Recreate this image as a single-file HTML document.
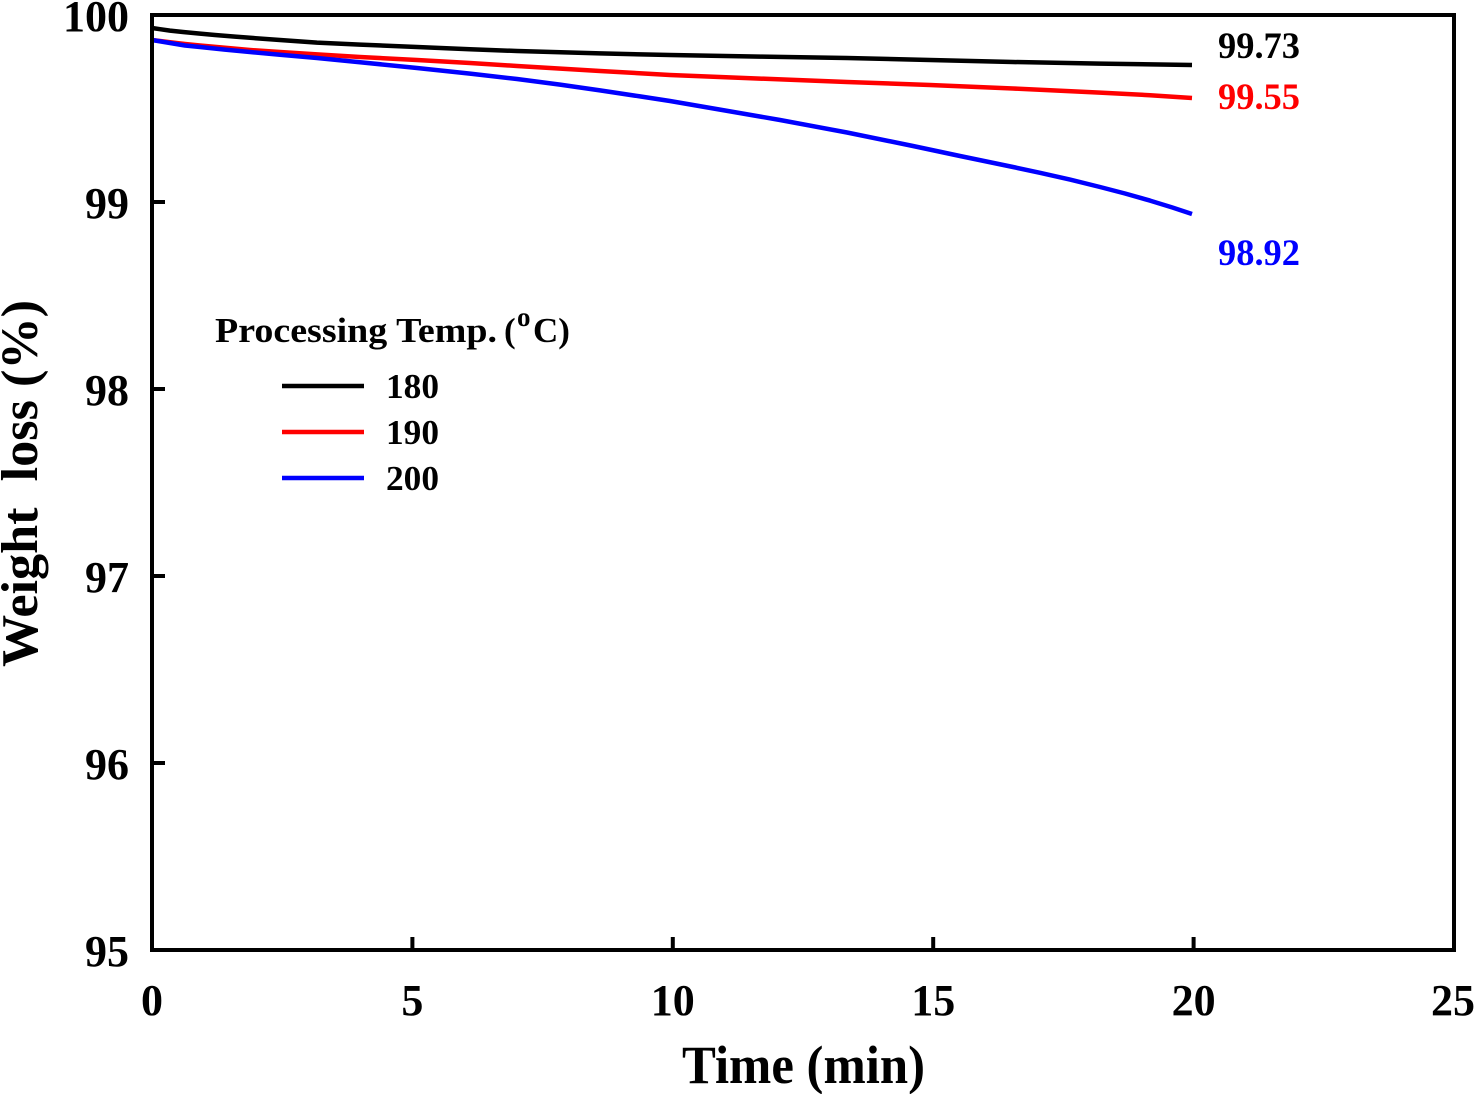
<!DOCTYPE html>
<html><head><meta charset="utf-8"><style>
html,body{margin:0;padding:0;background:#fff;}
svg{display:block;}
text{font-family:"Liberation Serif","Times New Roman",serif;font-weight:bold;}
</style></head><body>
<svg width="1476" height="1094" viewBox="0 0 1476 1094" xmlns="http://www.w3.org/2000/svg">
<rect x="0" y="0" width="1476" height="1094" fill="#fff"/>
<!-- series -->
<g fill="none" stroke-width="4.5" stroke-linejoin="round" stroke-linecap="butt">
<polyline stroke="#000" points="152,28 160,29.2 170,30.6 183,32 200,33.6 215,35 235,36.6 250,37.8 280,40 317,42.6 360,44.6 417,47 470,49.2 517,51 600,53.4 670,55 760,56.6 847,58 930,60 1013,62 1100,63.6 1192,65"/>
<polyline stroke="#f00" points="152,40 170,42.2 185,44 200,45.5 225,47.8 250,50 280,52 317,54.4 360,57 417,60 470,63 517,66 600,71 670,75 760,78.6 847,82 930,85 1013,88.5 1100,92.6 1150,95.2 1192,98"/>
<polyline stroke="#00f" points="152,40 170,43 185,45.5 200,47 225,49.6 250,52 280,54.8 317,58 360,62.2 417,68 470,73.6 517,79 560,84.6 600,90.4 640,96.4 670,101 720,109.6 780,120 847,132.5 913,146 960,156 1013,167 1040,172.8 1070,179.6 1100,187 1125,193.5 1150,200.6 1172,207.4 1192,214"/>
</g>
<!-- frame -->
<rect x="152" y="15" width="1302" height="935" fill="none" stroke="#000" stroke-width="4"/>
<!-- ticks -->
<g stroke="#000" stroke-width="4">
<line x1="152" y1="202" x2="165" y2="202"/>
<line x1="152" y1="389" x2="165" y2="389"/>
<line x1="152" y1="576" x2="165" y2="576"/>
<line x1="152" y1="763" x2="165" y2="763"/>
<line x1="412.4" y1="950" x2="412.4" y2="937"/>
<line x1="672.8" y1="950" x2="672.8" y2="937"/>
<line x1="933.2" y1="950" x2="933.2" y2="937"/>
<line x1="1193.6" y1="950" x2="1193.6" y2="937"/>
</g>
<!-- y tick labels -->
<g font-size="44" text-anchor="end" fill="#000">
<text x="129" y="31">100</text>
<text x="129" y="218">99</text>
<text x="129" y="405">98</text>
<text x="129" y="592">97</text>
<text x="129" y="779">96</text>
<text x="129" y="966">95</text>
</g>
<!-- x tick labels -->
<g font-size="44" text-anchor="middle" fill="#000">
<text x="152" y="1015">0</text>
<text x="412.4" y="1015">5</text>
<text x="672.8" y="1015">10</text>
<text x="933.2" y="1015">15</text>
<text x="1193.6" y="1015">20</text>
<text x="1453" y="1015">25</text>
</g>
<!-- axis titles -->
<text x="803.5" y="1083" font-size="54" text-anchor="middle" textLength="243" lengthAdjust="spacingAndGlyphs">Time (min)</text>
<text transform="translate(37,483.5) rotate(-90)" x="0" y="0" font-size="52" text-anchor="middle" textLength="367" lengthAdjust="spacingAndGlyphs" xml:space="preserve">Weight  loss (%)</text>
<!-- end labels -->
<text x="1218" y="58" font-size="37" fill="#000" textLength="82" lengthAdjust="spacingAndGlyphs">99.73</text>
<text x="1218" y="109" font-size="37" fill="#f00" textLength="82" lengthAdjust="spacingAndGlyphs">99.55</text>
<text x="1218" y="265" font-size="37" fill="#00f" textLength="82" lengthAdjust="spacingAndGlyphs">98.92</text>
<!-- legend -->
<text x="215" y="342" font-size="35" textLength="282" lengthAdjust="spacingAndGlyphs">Processing Temp.</text>
<text x="504" y="342" font-size="35">(</text>
<text x="517" y="326" font-size="27">o</text>
<text x="533" y="342" font-size="35">C)</text>
<g stroke-width="4.5">
<line x1="282" y1="386" x2="364" y2="386" stroke="#000"/>
<line x1="282" y1="432" x2="364" y2="432" stroke="#f00"/>
<line x1="282" y1="478" x2="364" y2="478" stroke="#00f"/>
</g>
<g font-size="35" fill="#000">
<text x="386" y="398" textLength="53" lengthAdjust="spacingAndGlyphs">180</text>
<text x="386" y="444" textLength="53" lengthAdjust="spacingAndGlyphs">190</text>
<text x="386" y="490" textLength="53" lengthAdjust="spacingAndGlyphs">200</text>
</g>
</svg>
</body></html>
